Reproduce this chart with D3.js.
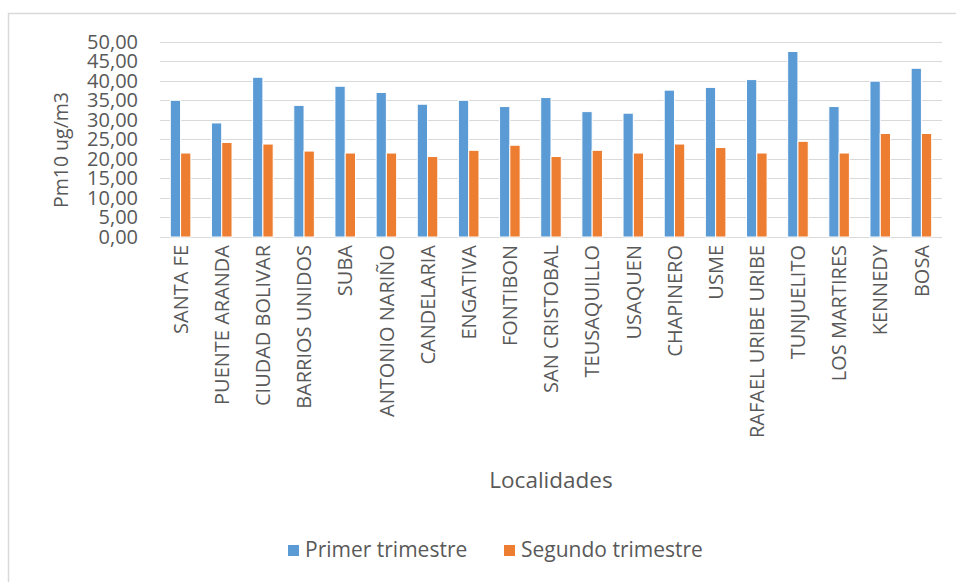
<!DOCTYPE html>
<html>
<head>
<meta charset="utf-8">
<script src="https://cdn.jsdelivr.net/npm/d3@7"></script>
<style>
  html, body { margin: 0; padding: 0; background: #ffffff; }
  svg { display: block; font-family: "Open Sans", "Noto Sans", sans-serif; }
</style>
</head>
<body>
<svg id="chart" width="956" height="582"></svg>
<script>
// PM10 concentrations by locality, first vs. second quarter
const localidades = [
  "SANTA FE", "PUENTE ARANDA", "CIUDAD BOLIVAR", "BARRIOS UNIDOS", "SUBA",
  "ANTONIO NARIÑO", "CANDELARIA", "ENGATIVA", "FONTIBON", "SAN CRISTOBAL",
  "TEUSAQUILLO", "USAQUEN", "CHAPINERO", "USME", "RAFAEL URIBE URIBE",
  "TUNJUELITO", "LOS MARTIRES", "KENNEDY", "BOSA"
];
const primerTrimestre = [
  35.0, 29.2, 40.9, 33.7, 38.6,
  37.0, 34.0, 35.0, 33.4, 35.7,
  32.1, 31.7, 37.6, 38.3, 40.3,
  47.5, 33.4, 39.9, 43.2
];
const segundoTrimestre = [
  21.5, 24.2, 23.8, 22.0, 21.5,
  21.5, 20.6, 22.2, 23.5, 20.6,
  22.2, 21.5, 23.8, 22.9, 21.5,
  24.5, 21.5, 26.5, 26.5
];
const serieNames = ["Primer trimestre", "Segundo trimestre"];
const yTicks = [0, 5, 10, 15, 20, 25, 30, 35, 40, 45, 50];

const colors = ["#5b9bd5", "#ed7d31"];
const textColor = "#595959";
const gridColor = "#d9d9d9";

const svg = d3.select("#chart");

// outer chart frame
svg.append("rect")
  .attr("x", 8.5).attr("y", 13.5)
  .attr("width", 1000).attr("height", 1000)
  .attr("fill", "#ffffff")
  .attr("stroke", "#d9d9d9").attr("stroke-width", 1.5);

const plot = { left: 160, right: 942, top: 41.7, bottom: 237 };

const x = d3.scaleBand()
  .domain(localidades)
  .range([plot.left, plot.right])
  .paddingInner(0).paddingOuter(0);

const y = d3.scaleLinear()
  .domain([0, 50])
  .range([plot.bottom, plot.top]);

const locale = d3.formatLocale({ decimal: ",", thousands: ".", grouping: [3], currency: ["", ""] });
const fmt = locale.format(".2f");

// horizontal gridlines
svg.append("g")
  .selectAll("line")
  .data(yTicks)
  .join("line")
  .attr("x1", plot.left).attr("x2", plot.right)
  .attr("y1", d => Math.round(y(d)) + 0.5).attr("y2", d => Math.round(y(d)) + 0.5)
  .attr("stroke", gridColor).attr("stroke-width", 1.2);

// y axis tick labels
const yAxis = d3.axisLeft(y).tickValues(yTicks).tickFormat(fmt).tickSize(0).tickPadding(22);
const gy = svg.append("g").attr("transform", `translate(${plot.left},0)`).call(yAxis);
gy.select(".domain").remove();
gy.selectAll("text")
  .attr("fill", textColor)
  .style("font-size", "20px")
  .style("font-family", "'Open Sans', sans-serif");

// bars
const inner = d3.scaleBand()
  .domain([0, 1])
  .range([0, x.bandwidth()])
  .paddingInner(0.0)
  .paddingOuter(1.0);

const groups = svg.append("g")
  .selectAll("g")
  .data(localidades)
  .join("g")
  .attr("transform", d => `translate(${x(d)},0)`);

groups.selectAll("rect")
  .data((d, i) => [primerTrimestre[i], segundoTrimestre[i]])
  .join("rect")
  .attr("x", (v, j) => inner(j))
  .attr("width", inner.bandwidth())
  .attr("y", v => y(v))
  .attr("height", v => y(0) - y(v))
  .attr("fill", (v, j) => colors[j])
  .attr("stroke", "#ffffff")
  .attr("stroke-width", 1);

// x axis labels, rotated
const xAxis = d3.axisBottom(x).tickSize(0).tickPadding(0);
const gx = svg.append("g").attr("transform", `translate(0,${plot.bottom})`).call(xAxis);
gx.select(".domain").remove();
gx.selectAll("text")
  .attr("fill", textColor)
  .style("font-size", "20px")
  .style("font-family", "'Open Sans', sans-serif")
  .attr("text-anchor", "end")
  .attr("transform", "rotate(-90)")
  .attr("x", -8)
  .attr("y", 0)
  .attr("dy", "0.36em");

// axis titles
svg.append("text")
  .attr("transform", "translate(68,150) rotate(-90)")
  .attr("text-anchor", "middle")
  .attr("fill", textColor)
  .style("font-size", "19.5px")
  .text("Pm10 ug/m3");

svg.append("text")
  .attr("x", 551).attr("y", 488)
  .attr("text-anchor", "middle")
  .attr("fill", textColor)
  .style("font-size", "22.5px")
  .text("Localidades");

// legend
const legendItems = [
  { name: serieNames[0], color: colors[0], x: 288 },
  { name: serieNames[1], color: colors[1], x: 504 }
];
const lg = svg.append("g")
  .selectAll("g")
  .data(legendItems)
  .join("g")
  .attr("transform", d => `translate(${d.x},545)`);
lg.append("rect")
  .attr("width", 11).attr("height", 11)
  .attr("fill", d => d.color);
lg.append("text")
  .attr("x", 17).attr("y", 12)
  .attr("fill", textColor)
  .style("font-size", "21px")
  .text(d => d.name);
</script>
</body>
</html>
